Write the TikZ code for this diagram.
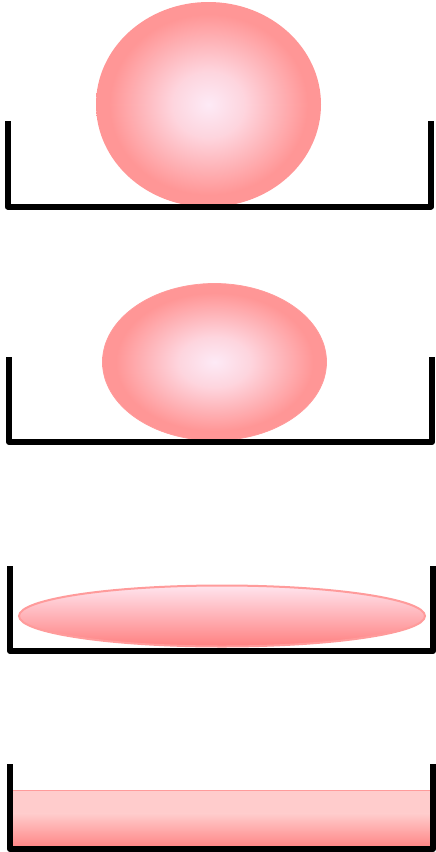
\documentclass[tikz,border=0pt]{standalone}
\usetikzlibrary{shapes.geometric}
\definecolor{dropout}{RGB}{255,150,150}
\definecolor{dropin}{RGB}{253,234,246}
\definecolor{edgepink}{RGB}{255,155,155}
\definecolor{flattop}{RGB}{255,228,238}
\definecolor{flatbot}{RGB}{255,128,128}
\definecolor{filmtop}{RGB}{255,204,204}
\definecolor{filmbot}{RGB}{255,134,134}
\pgfdeclareradialshading{dropshade}{\pgfpointorigin}{color(0bp)=(dropin); color(8bp)=(dropin!75!dropout); color(22bp)=(dropout); color(25bp)=(dropout); color(50bp)=(dropout)}
\tikzset{
  dish/.style={line width=6pt, line join=round, line cap=butt, black},
  drop/.style={ellipse, inner sep=0pt, shading=dropshade},
}
\begin{document}
\begin{tikzpicture}[x=1pt,y=-1pt]
\useasboundingbox (0,0) rectangle (436,852);
% stage 1
\node[drop, minimum width=225pt, minimum height=205pt] (d1) at (208.5,104.5) {};
\coordinate (a1) at (7.5,121); \coordinate (b1) at (7.5,206.5);
\coordinate (c1) at (431,206.5); \coordinate (e1) at (431,121);
\draw[dish] (a1) -- (b1) -- (c1) -- (e1);
% stage 2
\node[drop, draw=edgepink, line width=0.8pt, minimum width=224pt, minimum height=157pt] (d2) at (214.5,362) {};
\coordinate (a2) at (9,357); \coordinate (b2) at (9,442);
\coordinate (c2) at (432,442); \coordinate (e2) at (432,357);
\draw[dish] (a2) -- (b2) -- (c2) -- (e2);
% stage 3
\node[ellipse, inner sep=0pt, draw=edgepink, line width=2pt, top color=flattop, bottom color=flatbot, minimum width=406pt, minimum height=61pt] (d3) at (222,616) {};
\coordinate (a3) at (10,566); \coordinate (b3) at (10,651);
\coordinate (c3) at (433,651); \coordinate (e3) at (433,566);
\draw[dish] (a3) -- (b3) -- (c3) -- (e3);
% stage 4
\fill[filmtop] (13,790) rectangle (430,814);
\shade[top color=filmtop, bottom color=filmbot, shading angle=0] (13,813.5) rectangle (430,847);
\draw[edgepink, line width=0.8pt] (13,790) -- (430,790);
\coordinate (a4) at (10,764); \coordinate (b4) at (10,849);
\coordinate (c4) at (433,849); \coordinate (e4) at (433,764);
\draw[dish] (a4) -- (b4) -- (c4) -- (e4);
\end{tikzpicture}
\end{document}
